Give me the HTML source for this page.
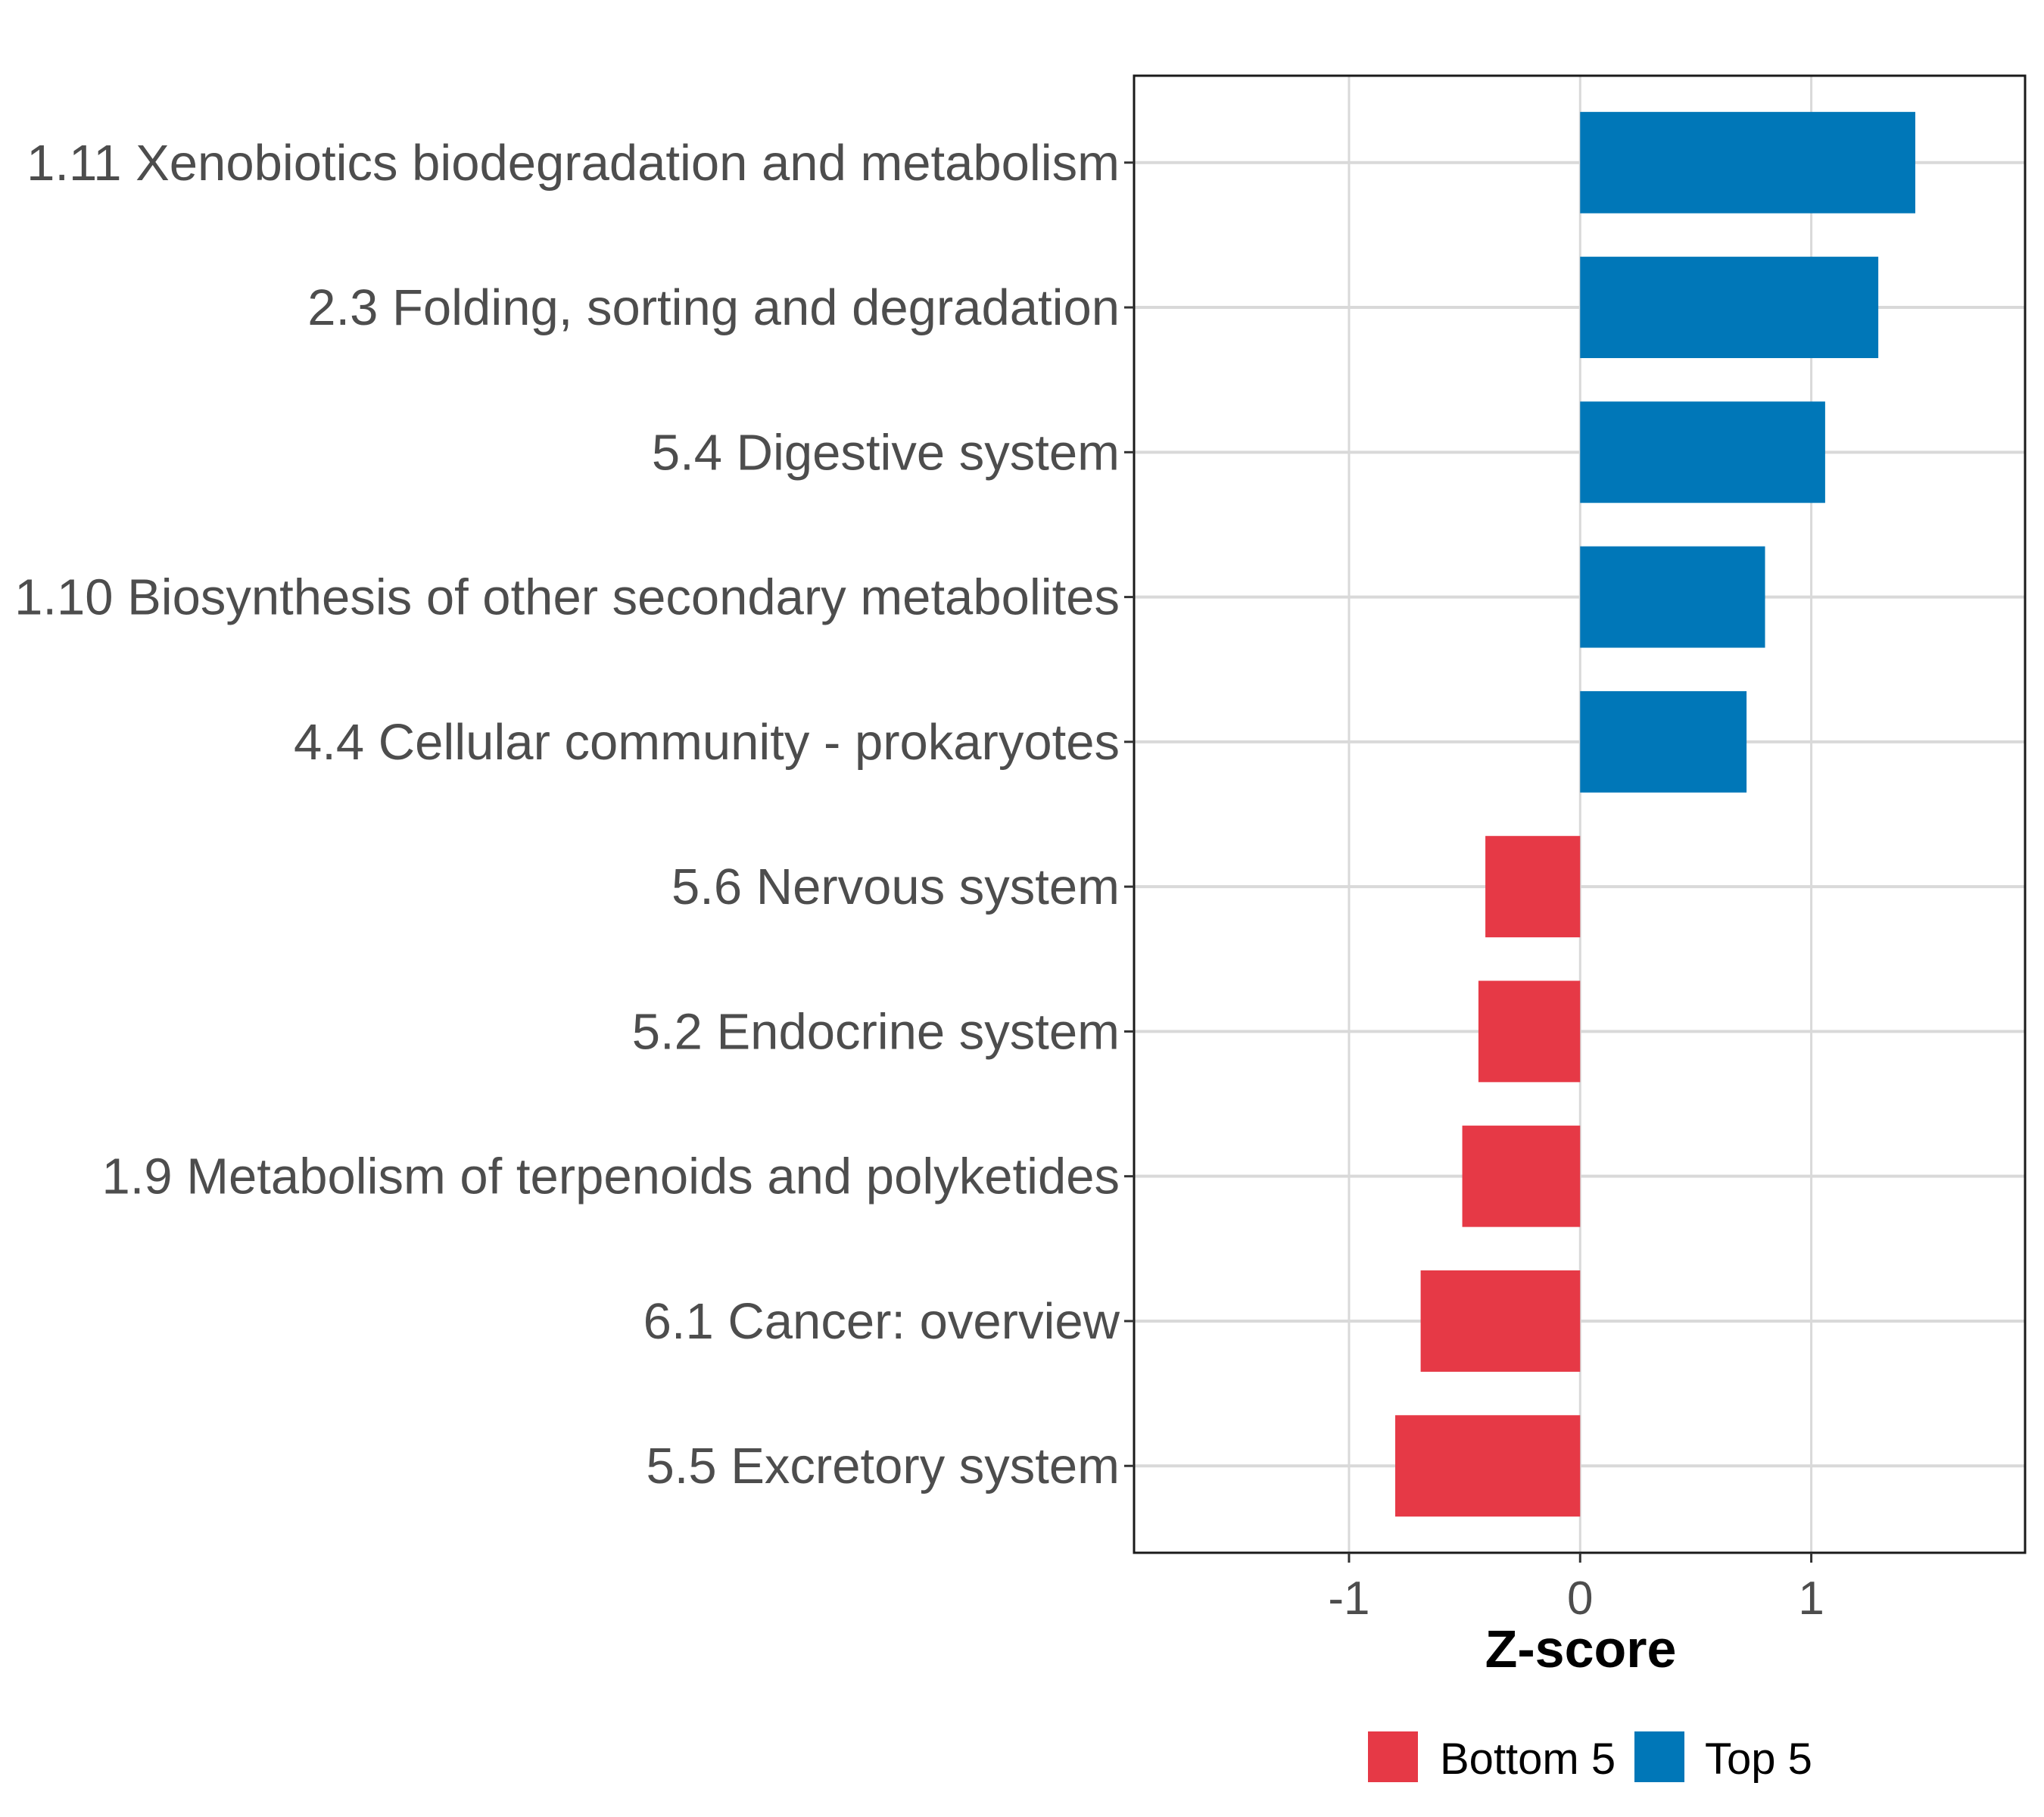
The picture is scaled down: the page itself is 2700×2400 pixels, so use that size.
<!DOCTYPE html>
<html><head><meta charset="utf-8"><style>
body{margin:0;background:#fff}
svg{display:block;font-family:"Liberation Sans",Arial,sans-serif}
</style></head><body>
<svg id="chart" width="2700" height="2400" viewBox="0 0 2700 2400" xmlns="http://www.w3.org/2000/svg">
<rect width="2700" height="2400" fill="#fff"/>
<g id="grid"></g>
<g id="bars"></g>
<rect x="1498" y="100" width="1177" height="1951" fill="none" stroke="#1a1a1a" stroke-width="3"/>
<g id="yaxis"></g>
<g id="xaxis"></g>
<text x="2088" y="2202" text-anchor="middle" font-size="70" font-weight="bold" fill="#000">Z-score</text>
<g>
<rect x="1807" y="2287" width="66" height="67" fill="#E63946"/>
<text x="1902" y="2343" font-size="58" fill="#000">Bottom 5</text>
<rect x="2159" y="2287" width="66" height="67" fill="#0077B8"/>
<text x="2252" y="2343" font-size="58" fill="#000">Top 5</text>
</g>
</svg>
<script>
const categories = ["1.11 Xenobiotics biodegradation and metabolism","2.3 Folding, sorting and degradation","5.4 Digestive system","1.10 Biosynthesis of other secondary metabolites","4.4 Cellular community - prokaryotes","5.6 Nervous system","5.2 Endocrine system","1.9 Metabolism of terpenoids and polyketides","6.1 Cancer: overview","5.5 Excretory system"];
const values = [1.45, 1.29, 1.06, 0.80, 0.72, -0.41, -0.44, -0.51, -0.69, -0.80];
const groups = ["Top 5","Top 5","Top 5","Top 5","Top 5","Bottom 5","Bottom 5","Bottom 5","Bottom 5","Bottom 5"];
const xTicks = [-1, 0, 1];
const xTickLabels = ["-1", "0", "1"];
const NS = "http://www.w3.org/2000/svg";
const X0 = 1498, X1 = 2675, Y0 = 100, Y1 = 2051;
const xMin = -1.93, xMax = 1.925;
function xs(v){ return X0 + (v - xMin) / (xMax - xMin) * (X1 - X0); }
const step = (Y1 - Y0) / (categories.length + 0.2);
function ys(i){ return Y0 + step * 0.6 + i * step; }
function mk(tag, attrs, parent){ const e = document.createElementNS(NS, tag); for (const k in attrs) e.setAttribute(k, attrs[k]); parent.appendChild(e); return e; }
const grid = document.getElementById('grid'), bars = document.getElementById('bars'), ya = document.getElementById('yaxis'), xa = document.getElementById('xaxis');
xTicks.forEach((t, i) => {
  const g = mk('line', {x1: xs(t), x2: xs(t), y1: Y0, y2: Y1, stroke: '#d9d9d9', 'stroke-width': 3}, grid);
  
  
  const tk = mk('line', {x1: xs(t), x2: xs(t), y1: Y1, y2: Y1 + 13, stroke: '#333', 'stroke-width': 3}, xa);
  
  
  const tl = mk('text', {x: xs(t), y: 2132, 'text-anchor': 'middle', 'font-size': 62, fill: '#4d4d4d'}, xa);
  tl.textContent = xTickLabels[i];
  
  
});
categories.forEach((c, i) => {
  const y = ys(i);
  const g = mk('line', {x1: X0, x2: X1, y1: y, y2: y, stroke: '#d9d9d9', 'stroke-width': 4}, grid);
  
  
  const v = values[i], h = step * 0.7;
  const b = mk('rect', {x: Math.min(xs(0), xs(v)), y: y - h / 2, width: Math.abs(xs(v) - xs(0)), height: h, fill: groups[i] === 'Top 5' ? '#0077B8' : '#E63946'}, bars);
  
  
  const tk = mk('line', {x1: X0 - 13, x2: X0, y1: y, y2: y, stroke: '#333', 'stroke-width': 3}, ya);
  
  
  const tl = mk('text', {x: X0 - 19, y: y + 23, 'text-anchor': 'end', 'font-size': 67, fill: '#4d4d4d'}, ya);
  tl.textContent = c;
  
  
});
</script>
</body></html>
